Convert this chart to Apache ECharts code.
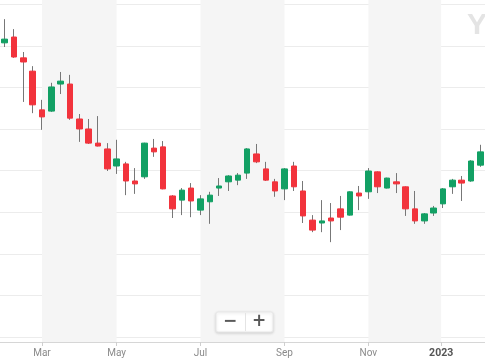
<!DOCTYPE html>
<html>
<head>
<meta charset="utf-8">
<script src="https://cdn.jsdelivr.net/npm/echarts@6/dist/echarts.min.js"></script>
<style>
html,body{margin:0;padding:0;background:#fff;}
#chart{width:485px;height:360px;}
</style>
</head>
<body>
<div id="chart"></div>
<script>
// weekly candles
var dates = ['2022-01-31','2022-02-07','2022-02-14','2022-02-21','2022-02-28','2022-03-07','2022-03-14','2022-03-21','2022-03-28','2022-04-04','2022-04-11','2022-04-18','2022-04-25','2022-05-02','2022-05-09','2022-05-16','2022-05-23','2022-05-30','2022-06-06','2022-06-13','2022-06-20','2022-06-27','2022-07-04','2022-07-11','2022-07-18','2022-07-25','2022-08-01','2022-08-08','2022-08-15','2022-08-22','2022-08-29','2022-09-05','2022-09-12','2022-09-19','2022-09-26','2022-10-03','2022-10-10','2022-10-17','2022-10-24','2022-10-31','2022-11-07','2022-11-14','2022-11-21','2022-11-28','2022-12-05','2022-12-12','2022-12-19','2022-12-26','2023-01-02','2023-01-09','2023-01-16','2023-01-23'];
var opens  = [130.7,132.1,127.1,123.9,114.6,114.3,120.8,120.8,112.4,110.0,106.6,105.2,101.1,101.6,97.5,98.5,105.4,105.7,93.9,92.9,95.8,90.5,92.5,95.8,97.3,97.7,99.4,104.0,100.4,97.3,95.6,101.1,95.1,88.1,87.4,88.6,90.8,89.3,94.6,94.9,99.7,95.8,97.3,96.1,90.8,87.9,89.8,92.0,96.1,97.7,97.5,101.3];
var closes = [131.6,127.3,126.1,115.8,112.9,120.1,121.5,112.6,110.0,106.6,105.9,100.4,102.8,97.5,96.8,106.6,104.5,95.6,90.8,95.3,92.7,93.2,94.1,96.3,98.7,98.9,105.2,102.1,97.7,95.1,100.4,96.1,89.1,85.7,87.9,87.9,88.8,94.9,93.9,99.9,96.1,98.2,96.8,90.8,87.9,89.6,91.0,95.6,97.7,97.0,102.3,104.5];
var lows   = [129.7,127.1,116.5,113.8,109.8,114.1,118.4,112.2,106.9,106.4,105.8,99.9,99.2,94.1,94.4,98.0,103.3,95.5,88.6,89.3,88.8,89.3,87.2,93.9,95.1,96.5,98.0,101.8,97.5,93.7,92.9,95.1,87.4,85.2,85.2,82.8,85.7,89.2,90.5,93.2,94.6,95.7,94.6,89.1,87.2,87.2,89.1,91.0,94.4,92.7,97.3,100.9];
var highs  = [136.4,134.0,128.5,125.1,117.0,121.1,123.7,123.0,113.6,112.4,113.1,106.6,107.4,102.1,100.6,106.7,107.6,107.1,94.1,95.8,97.0,94.1,94.9,98.2,98.9,99.4,105.4,106.4,102.1,98.0,100.6,102.1,97.5,89.3,92.9,92.2,93.9,95.0,96.3,100.6,99.8,98.3,99.4,96.2,95.1,89.8,91.5,95.8,98.0,98.7,102.5,106.2];

// axis labels (positions in candle index units)
var tickLabels = ['Mar','May','Jul','Sep','Nov','2023'];
var tickIndex  = [4, 12, 21, 30, 39, 46.8];
// shaded month bands (candle index units)
var bandStarts = [4, 21, 39];
var bandEnds   = [12, 30, 46.8];
// horizontal grid values
var gridValues = [60,70,80,90,100,110,120,130,140];

var UP = '#12a064', DOWN = '#f2333c', WICK = '#777777';

var wickData = dates.map(function(d,i){ return [opens[i], closes[i], lows[i], highs[i]]; });
var bodyData = dates.map(function(d,i){
  return [opens[i], closes[i], Math.min(opens[i],closes[i]), Math.max(opens[i],closes[i])];
});
var bands = bandStarts.map(function(s,i){ return [{xAxis:s},{xAxis:bandEnds[i]}]; });

var chart = echarts.init(document.getElementById('chart'), null, {renderer:'canvas'});
chart.setOption({
  animation:false,
  backgroundColor:'#ffffff',
  grid:{left:-1.4, right:-1.4, top:0, bottom:18, containLabel:false},
  xAxis:[
    {type:'category', data:dates, show:false, boundaryGap:true},
    {type:'value', min:-0.5, max:51.5, position:'bottom',
     axisLine:{show:true, lineStyle:{color:'#d6d6d6', width:1}},
     axisTick:{show:true, customValues:tickIndex, length:4, lineStyle:{color:'#cfcfcf'}},
     splitLine:{show:false},
     axisLabel:{show:true, customValues:tickIndex, margin:6, fontSize:10, fontFamily:'Roboto, Arial, sans-serif', color:'#8a8a8a',
       formatter:function(v){
         for (var k=0;k<tickIndex.length;k++){ if (Math.abs(tickIndex[k]-v)<1e-6){ var t=tickLabels[k]; return /^\d{4}$/.test(t) ? '{y|'+t+'}' : t; } }
         return '';
       },
       rich:{y:{fontSize:10.5, fontWeight:'bold', color:'#555', fontFamily:'Roboto, Arial, sans-serif'}}
     }
    }
  ],
  yAxis:{type:'value', min:58.8, max:141.0, position:'right', scale:true,
    axisLine:{show:false}, axisLabel:{show:false},
    axisTick:{show:false, customValues:gridValues},
    splitLine:{show:true, lineStyle:{color:'#ececec', width:1}}
  },
  series:[
    {type:'line', xAxisIndex:1, yAxisIndex:0, data:[], z:1, silent:true,
     markArea:{silent:true, itemStyle:{color:'#f5f5f5'}, data:bands}},
    {type:'candlestick', name:'wick', xAxisIndex:0, data:wickData, barWidth:1, z:3,
     itemStyle:{color:WICK, color0:WICK, borderColor:WICK, borderColor0:WICK, borderWidth:1}},
    {type:'candlestick', name:'body', xAxisIndex:0, data:bodyData, barWidth:6, z:4,
     itemStyle:{color:UP, color0:DOWN, borderColor:UP, borderColor0:DOWN, borderWidth:1}}
  ],
  graphic:{elements:[
    {type:'text', left:467, top:11, z:10, silent:true,
     style:{text:'Y', fontSize:30, fontWeight:'bold', fontFamily:'Arial, Liberation Sans, sans-serif', fill:'#e4e4e4'}},
    {type:'rect', z:20, silent:true, shape:{x:216, y:312, width:57, height:20, r:2},
     style:{fill:'#ffffff', stroke:'#e8e8e8', lineWidth:1, shadowBlur:3, shadowColor:'rgba(0,0,0,0.14)', shadowOffsetY:1}},
    {type:'line', z:21, silent:true, shape:{x1:245.5, y1:313, x2:245.5, y2:331}, style:{stroke:'#e4e4e4', lineWidth:1}},
    {type:'text', z:22, silent:true, x:230, y:322, style:{text:'−', fontSize:17, fontWeight:'bold', fill:'#5a5a5a', align:'center', verticalAlign:'middle', fontFamily:'DejaVu Sans, sans-serif'}},
    {type:'text', z:22, silent:true, x:259, y:322, style:{text:'+', fontSize:17, fontWeight:'bold', fill:'#5a5a5a', align:'center', verticalAlign:'middle', fontFamily:'DejaVu Sans, sans-serif'}}
  ]}
});
</script>
</body>
</html>
